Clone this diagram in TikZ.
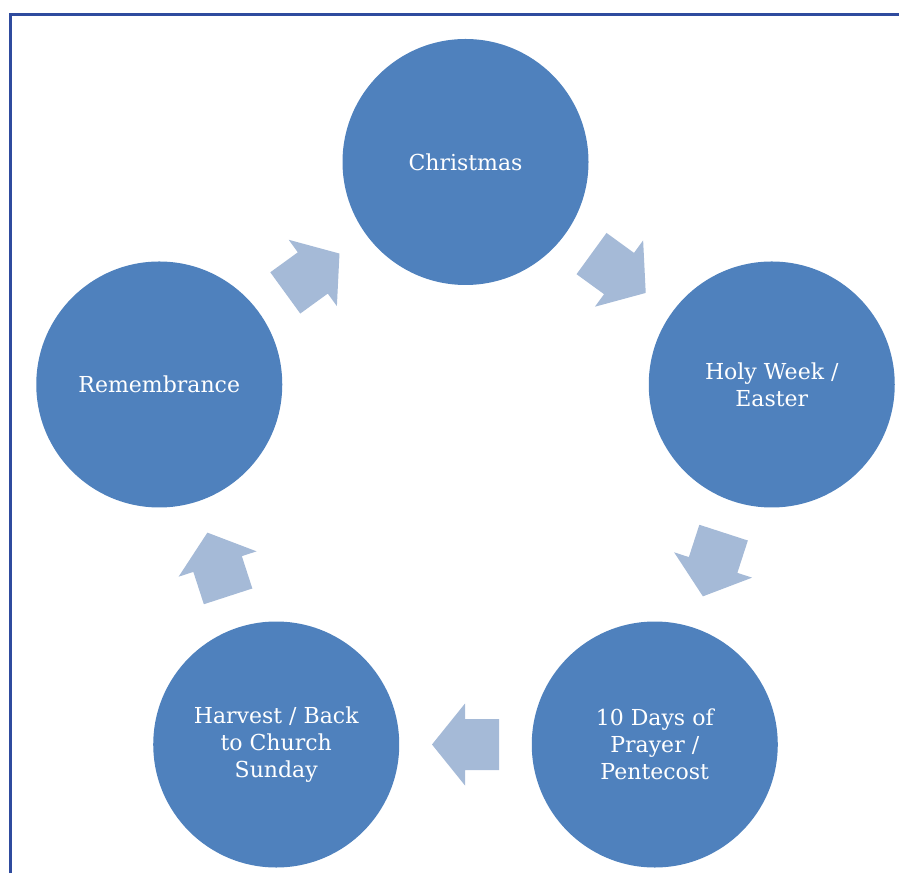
\documentclass[tikz,border=0pt]{standalone}
\usepackage{fontspec}
\setmainfont{DejaVu Serif}
\usetikzlibrary{calc}
\definecolor{circblue}{HTML}{4F81BD}
\definecolor{arrblue}{HTML}{A5BAD7}
\definecolor{framblue}{HTML}{2F4B9E}
\tikzset{
  circ/.style={circle, fill=circblue, minimum size=246pt, inner sep=0pt,
    text=white, align=center, font=\fontsize{22}{27}\selectfont},
  blockarrow/.style={fill=arrblue},
  frameline/.style={draw=framblue, line width=3pt}
}
\begin{document}
\begin{tikzpicture}[x=1pt,y=1pt]
\useasboundingbox (0,0) rectangle (899,873);
\coordinate (f1) at (10.5,0);
\coordinate (f2) at (10.5,858.3);
\coordinate (f3) at (899,858.3);
\draw[frameline] (f1) -- (f2) -- (f3);
\coordinate (O) at (465.5,389);
\node[circ] (chr) at ($(O)+(90:322)$) {Christmas};
\node[circ] (hw)  at ($(O)+(18:322)$) {Holy Week /\\Easter};
\node[circ] (ten) at ($(O)+(-54:322)$) {10 Days of\\Prayer /\\Pentecost};
\node[circ] (har) at ($(O)+(-126:322)$) {Harvest / Back\\to Church\\Sunday};
\node[circ] (rem) at ($(O)+(162:322)$) {Remembrance};
\foreach \a/\b/\ang in {chr/hw/-36, hw/ten/-108, ten/har/180, har/rem/108, rem/chr/36}{
  \fill[blockarrow, shift={($(\a)!0.5!(\b)$)}, rotate=\ang]
    (-33.5,25.5) -- (0.5,25.5) -- (0.5,41) -- (33.5,0) -- (0.5,-41) -- (0.5,-25.5) -- (-33.5,-25.5) -- cycle;
}
\end{tikzpicture}
\end{document}
